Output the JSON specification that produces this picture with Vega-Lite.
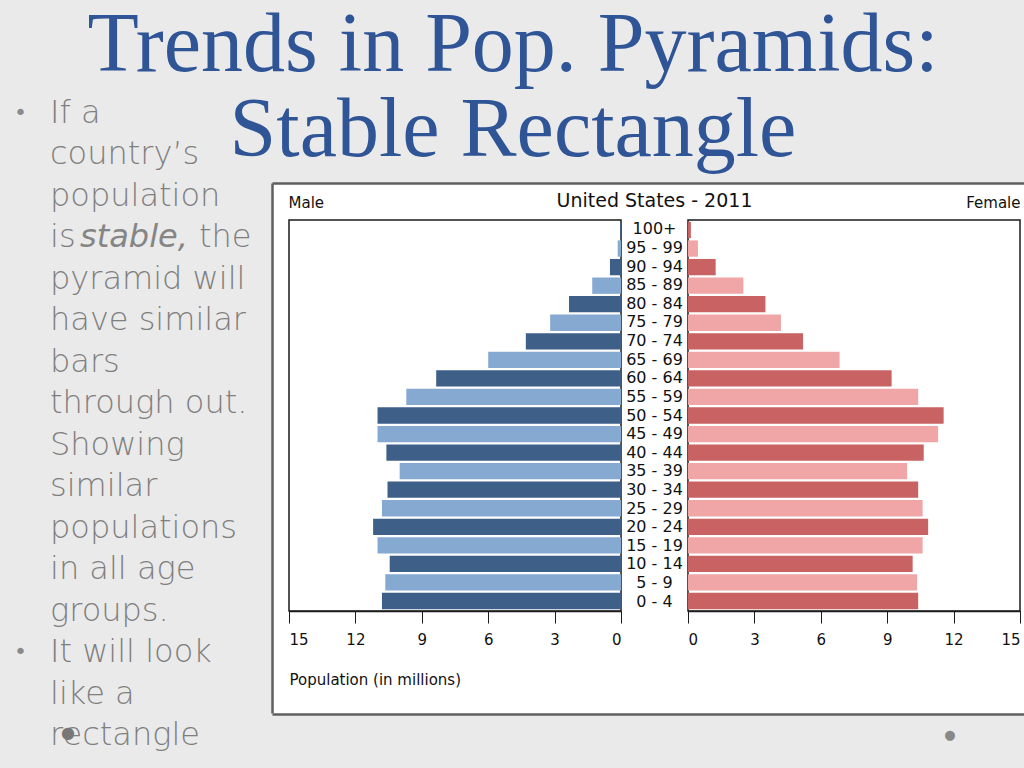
{
  "$schema": "https://vega.github.io/schema/vega-lite/v6.json",
  "background": "#ffffff",
  "padding": 0,
  "config": {
    "view": {"stroke": null},
    "font": "DejaVu Sans",
    "axis": {"grid": false}
  },
  "title": {
    "text": ["Trends in Pop. Pyramids:", "Stable Rectangle"],
    "font": "Liberation Serif",
    "fontSize": 84,
    "fontWeight": "normal",
    "color": "#2f5597",
    "lineHeight": 85,
    "anchor": "start",
    "align": "center",
    "dx": 513,
    "frame": "group",
    "offset": -174
  },
  "datasets": {
    "pop": [
      {"age": "100+", "male": 0.04, "female": 0.13},
      {"age": "95 - 99", "male": 0.15, "female": 0.45},
      {"age": "90 - 94", "male": 0.5, "female": 1.25},
      {"age": "85 - 89", "male": 1.3, "female": 2.5},
      {"age": "80 - 84", "male": 2.35, "female": 3.5},
      {"age": "75 - 79", "male": 3.2, "female": 4.2},
      {"age": "70 - 74", "male": 4.3, "female": 5.2},
      {"age": "65 - 69", "male": 6.0, "female": 6.85},
      {"age": "60 - 64", "male": 8.35, "female": 9.2},
      {"age": "55 - 59", "male": 9.7, "female": 10.4},
      {"age": "50 - 54", "male": 11.0, "female": 11.55},
      {"age": "45 - 49", "male": 11.0, "female": 11.3},
      {"age": "40 - 44", "male": 10.6, "female": 10.65},
      {"age": "35 - 39", "male": 10.0, "female": 9.9},
      {"age": "30 - 34", "male": 10.55, "female": 10.4},
      {"age": "25 - 29", "male": 10.8, "female": 10.6},
      {"age": "20 - 24", "male": 11.2, "female": 10.85},
      {"age": "15 - 19", "male": 11.0, "female": 10.6},
      {"age": "10 - 14", "male": 10.45, "female": 10.15},
      {"age": "5 - 9", "male": 10.65, "female": 10.35},
      {"age": "0 - 4", "male": 10.8, "female": 10.4}
    ],
    "bullets": [
      {"line": 1, "part": "plain", "text": "If a", "bullet": true},
      {"line": 2, "part": "plain", "text": "country’s", "bullet": false},
      {"line": 3, "part": "plain", "text": "population", "bullet": false},
      {"line": 4, "part": "lead", "text": "is", "bullet": false},
      {"line": 4, "part": "italic", "text": "stable,", "bullet": false},
      {"line": 4, "part": "tail", "text": "the", "bullet": false},
      {"line": 5, "part": "plain", "text": "pyramid will", "bullet": false},
      {"line": 6, "part": "plain", "text": "have similar", "bullet": false},
      {"line": 7, "part": "plain", "text": "bars", "bullet": false},
      {"line": 8, "part": "plain", "text": "through out.", "bullet": false},
      {"line": 9, "part": "plain", "text": "Showing", "bullet": false},
      {"line": 10, "part": "plain", "text": "similar", "bullet": false},
      {"line": 11, "part": "plain", "text": "populations", "bullet": false},
      {"line": 12, "part": "plain", "text": "in all age", "bullet": false},
      {"line": 13, "part": "plain", "text": "groups.", "bullet": false},
      {"line": 14, "part": "plain", "text": "It will look", "bullet": true},
      {"line": 15, "part": "plain", "text": "like a", "bullet": false},
      {"line": 16, "part": "plain", "text": "rectangle", "bullet": false}
    ]
  },
  "hconcat": [
    {
      "width": 272,
      "height": 768,
      "view": {"fill": "#eaeaea", "stroke": null},
      "data": {"name": "bullets"},
      "resolve": {"scale": {"y": "independent"}, "axis": {"y": "independent"}},
      "layer": [
        {
          "transform": [{"filter": "datum.part == 'plain' || datum.part == 'lead'"}],
          "mark": {"type": "text", "align": "left", "baseline": "middle", "dx": 50, "fontSize": 32, "fontWeight": 300, "color": "#7f7f7f"},
          "encoding": {
            "y": {"field": "line", "type": "quantitative", "scale": {"domain": [-1.725, 16.795], "reverse": true, "nice": false, "zero": false}, "axis": null},
            "x": {"datum": 0, "type": "quantitative", "scale": {"domain": [0, 1]}, "axis": null},
            "text": {"field": "text"}
          }
        },
        {
          "transform": [{"filter": "datum.part == 'italic'"}],
          "mark": {"type": "text", "align": "left", "baseline": "middle", "dx": 80, "fontSize": 32, "fontWeight": "normal", "fontStyle": "italic", "color": "#858585"},
          "encoding": {
            "y": {"field": "line", "type": "quantitative", "scale": {"domain": [-1.725, 16.795], "reverse": true, "nice": false, "zero": false}, "axis": null},
            "x": {"datum": 0, "type": "quantitative", "axis": null},
            "text": {"field": "text"}
          }
        },
        {
          "transform": [{"filter": "datum.part == 'tail'"}],
          "mark": {"type": "text", "align": "left", "baseline": "middle", "dx": 199, "fontSize": 32, "fontWeight": 300, "color": "#7f7f7f"},
          "encoding": {
            "y": {"field": "line", "type": "quantitative", "scale": {"domain": [-1.725, 16.795], "reverse": true, "nice": false, "zero": false}, "axis": null},
            "x": {"datum": 0, "type": "quantitative", "axis": null},
            "text": {"field": "text"}
          }
        },
        {
          "transform": [{"filter": "datum.bullet"}],
          "mark": {"type": "text", "align": "left", "baseline": "middle", "dx": 14, "fontSize": 22, "color": "#8a8a8a", "text": "•"},
          "encoding": {
            "y": {"field": "line", "type": "quantitative", "scale": {"domain": [-1.725, 16.795], "reverse": true, "nice": false, "zero": false}, "axis": null},
            "x": {"datum": 0, "type": "quantitative", "axis": null}
          }
        },
        {
          "transform": [{"filter": "datum.line == 16"}],
          "mark": {"type": "text", "align": "center", "baseline": "middle", "dx": 68, "dy": -2, "fontSize": 16, "color": "#777777", "text": "●"},
          "encoding": {
            "y": {"field": "line", "type": "quantitative", "scale": {"domain": [-1.725, 16.795], "reverse": true, "nice": false, "zero": false}, "axis": null},
            "x": {"datum": 0, "type": "quantitative", "axis": null}
          }
        },
        {
          "data": {"values": [{}]},
          "mark": {"type": "text", "text": ""},
          "encoding": {
            "y": {"datum": 0, "type": "quantitative", "scale": {"domain": [0, 1], "rangeMin": 713, "rangeMax": 183},
              "axis": {"orient": "right", "domain": true, "ticks": false, "labels": false, "title": null, "grid": false, "domainColor": "#5f5f5f", "domainWidth": 2.5}}
          }
        }
      ]
    },
    {
      "spacing": 9,
      "vconcat": [
        {
          "width": 752,
          "height": 183,
          "view": {"fill": "#eaeaea", "stroke": null},
          "data": {"values": [{}]},
          "mark": {"type": "text", "text": ""},
          "encoding": {
            "x": {"datum": 0, "type": "quantitative", "scale": {"domain": [0, 1]},
              "axis": {"orient": "bottom", "domain": true, "ticks": false, "labels": false, "title": null, "domainColor": "#5f5f5f", "domainWidth": 2.5}}
          }
        },
        {
          "spacing": 26,
          "vconcat": [
            {
              "spacing": 0,
              "bounds": "flush",
              "resolve": {"scale": {"color": "independent"}},
              "hconcat": [
                {
                  "width": 17,
                  "height": 391,
                  "data": {"values": [{}]},
                  "mark": {"type": "text", "text": ""},
                  "encoding": {}
                },
                {
                  "width": 332,
                  "height": 391,
                  "view": {"stroke": "#1a1a1a", "strokeWidth": 1.5},
                  "data": {"name": "pop"},
                  "title": {"text": "Male", "anchor": "start", "fontSize": 15, "fontWeight": "normal", "color": "#111111", "offset": 9},
                  "mark": {"type": "bar"},
                  "encoding": {
                    "y": {"field": "age", "type": "nominal", "scale": {"domain": ["100+","95 - 99","90 - 94","85 - 89","80 - 84","75 - 79","70 - 74","65 - 69","60 - 64","55 - 59","50 - 54","45 - 49","40 - 44","35 - 39","30 - 34","25 - 29","20 - 24","15 - 19","10 - 14","5 - 9","0 - 4"], "paddingInner": 0.12, "paddingOuter": 0.1}, "axis": null},
                    "x": {"field": "male", "type": "quantitative", "scale": {"domain": [0, 15], "reverse": true, "nice": false},
                      "axis": {"values": [0, 3, 6, 9, 12, 15], "title": "Population (in millions)", "titleAnchor": "end", "titleAlign": "left", "titleFontWeight": "normal", "titleFontSize": 15, "titleColor": "#111111", "titlePadding": 25, "tickSize": 12, "tickColor": "#1a1a1a", "domainColor": "#1a1a1a", "domainWidth": 1.5, "labelFontSize": 15, "labelColor": "#111111", "labelPadding": 9}},
                    "color": {"field": "age", "type": "nominal", "legend": null,
                      "scale": {"domain": ["100+","95 - 99","90 - 94","85 - 89","80 - 84","75 - 79","70 - 74","65 - 69","60 - 64","55 - 59","50 - 54","45 - 49","40 - 44","35 - 39","30 - 34","25 - 29","20 - 24","15 - 19","10 - 14","5 - 9","0 - 4"],
                        "range": ["#3e5f88","#86a9d2","#3e5f88","#86a9d2","#3e5f88","#86a9d2","#3e5f88","#86a9d2","#3e5f88","#86a9d2","#3e5f88","#86a9d2","#3e5f88","#86a9d2","#3e5f88","#86a9d2","#3e5f88","#86a9d2","#3e5f88","#86a9d2","#3e5f88"]}}
                  }
                },
                {
                  "width": 67,
                  "height": 391,
                  "data": {"name": "pop"},
                  "title": {"text": "United States - 2011", "anchor": "middle", "fontSize": 19, "fontWeight": "normal", "color": "#111111", "offset": 9},
                  "mark": {"type": "text", "fontSize": 16, "baseline": "middle", "color": "#111111"},
                  "encoding": {
                    "y": {"field": "age", "type": "nominal", "scale": {"domain": ["100+","95 - 99","90 - 94","85 - 89","80 - 84","75 - 79","70 - 74","65 - 69","60 - 64","55 - 59","50 - 54","45 - 49","40 - 44","35 - 39","30 - 34","25 - 29","20 - 24","15 - 19","10 - 14","5 - 9","0 - 4"], "paddingInner": 0.12, "paddingOuter": 0.1}, "axis": null},
                    "text": {"field": "age"}
                  }
                },
                {
                  "width": 332,
                  "height": 391,
                  "view": {"stroke": "#1a1a1a", "strokeWidth": 1.5},
                  "data": {"name": "pop"},
                  "title": {"text": "Female", "anchor": "end", "fontSize": 15, "fontWeight": "normal", "color": "#111111", "offset": 9},
                  "mark": {"type": "bar"},
                  "encoding": {
                    "y": {"field": "age", "type": "nominal", "scale": {"domain": ["100+","95 - 99","90 - 94","85 - 89","80 - 84","75 - 79","70 - 74","65 - 69","60 - 64","55 - 59","50 - 54","45 - 49","40 - 44","35 - 39","30 - 34","25 - 29","20 - 24","15 - 19","10 - 14","5 - 9","0 - 4"], "paddingInner": 0.12, "paddingOuter": 0.1}, "axis": null},
                    "x": {"field": "female", "type": "quantitative", "scale": {"domain": [0, 15], "nice": false},
                      "axis": {"values": [0, 3, 6, 9, 12, 15], "title": null, "tickSize": 12, "tickColor": "#1a1a1a", "domainColor": "#1a1a1a", "domainWidth": 1.5, "labelFontSize": 15, "labelColor": "#111111", "labelPadding": 9}},
                    "color": {"field": "age", "type": "nominal", "legend": null,
                      "scale": {"domain": ["100+","95 - 99","90 - 94","85 - 89","80 - 84","75 - 79","70 - 74","65 - 69","60 - 64","55 - 59","50 - 54","45 - 49","40 - 44","35 - 39","30 - 34","25 - 29","20 - 24","15 - 19","10 - 14","5 - 9","0 - 4"],
                        "range": ["#c96262","#f0a6a6","#c96262","#f0a6a6","#c96262","#f0a6a6","#c96262","#f0a6a6","#c96262","#f0a6a6","#c96262","#f0a6a6","#c96262","#f0a6a6","#c96262","#f0a6a6","#c96262","#f0a6a6","#c96262","#f0a6a6","#c96262"]}}
                  }
                }
              ]
            },
            {
              "width": 752,
              "height": 55,
              "view": {"fill": "#eaeaea", "stroke": null},
              "data": {"values": [{}]},
              "mark": {"type": "text", "text": "●", "dx": 302, "dy": -7, "fontSize": 13, "color": "#888888"},
              "encoding": {
                "x": {"datum": 0.5, "type": "quantitative", "scale": {"domain": [0, 1]},
                  "axis": {"orient": "top", "domain": true, "ticks": false, "labels": false, "title": null, "domainColor": "#5f5f5f", "domainWidth": 2.5}}
              }
            }
          ]
        }
      ]
    }
  ],
  "spacing": 0,
  "bounds": "flush"
}
